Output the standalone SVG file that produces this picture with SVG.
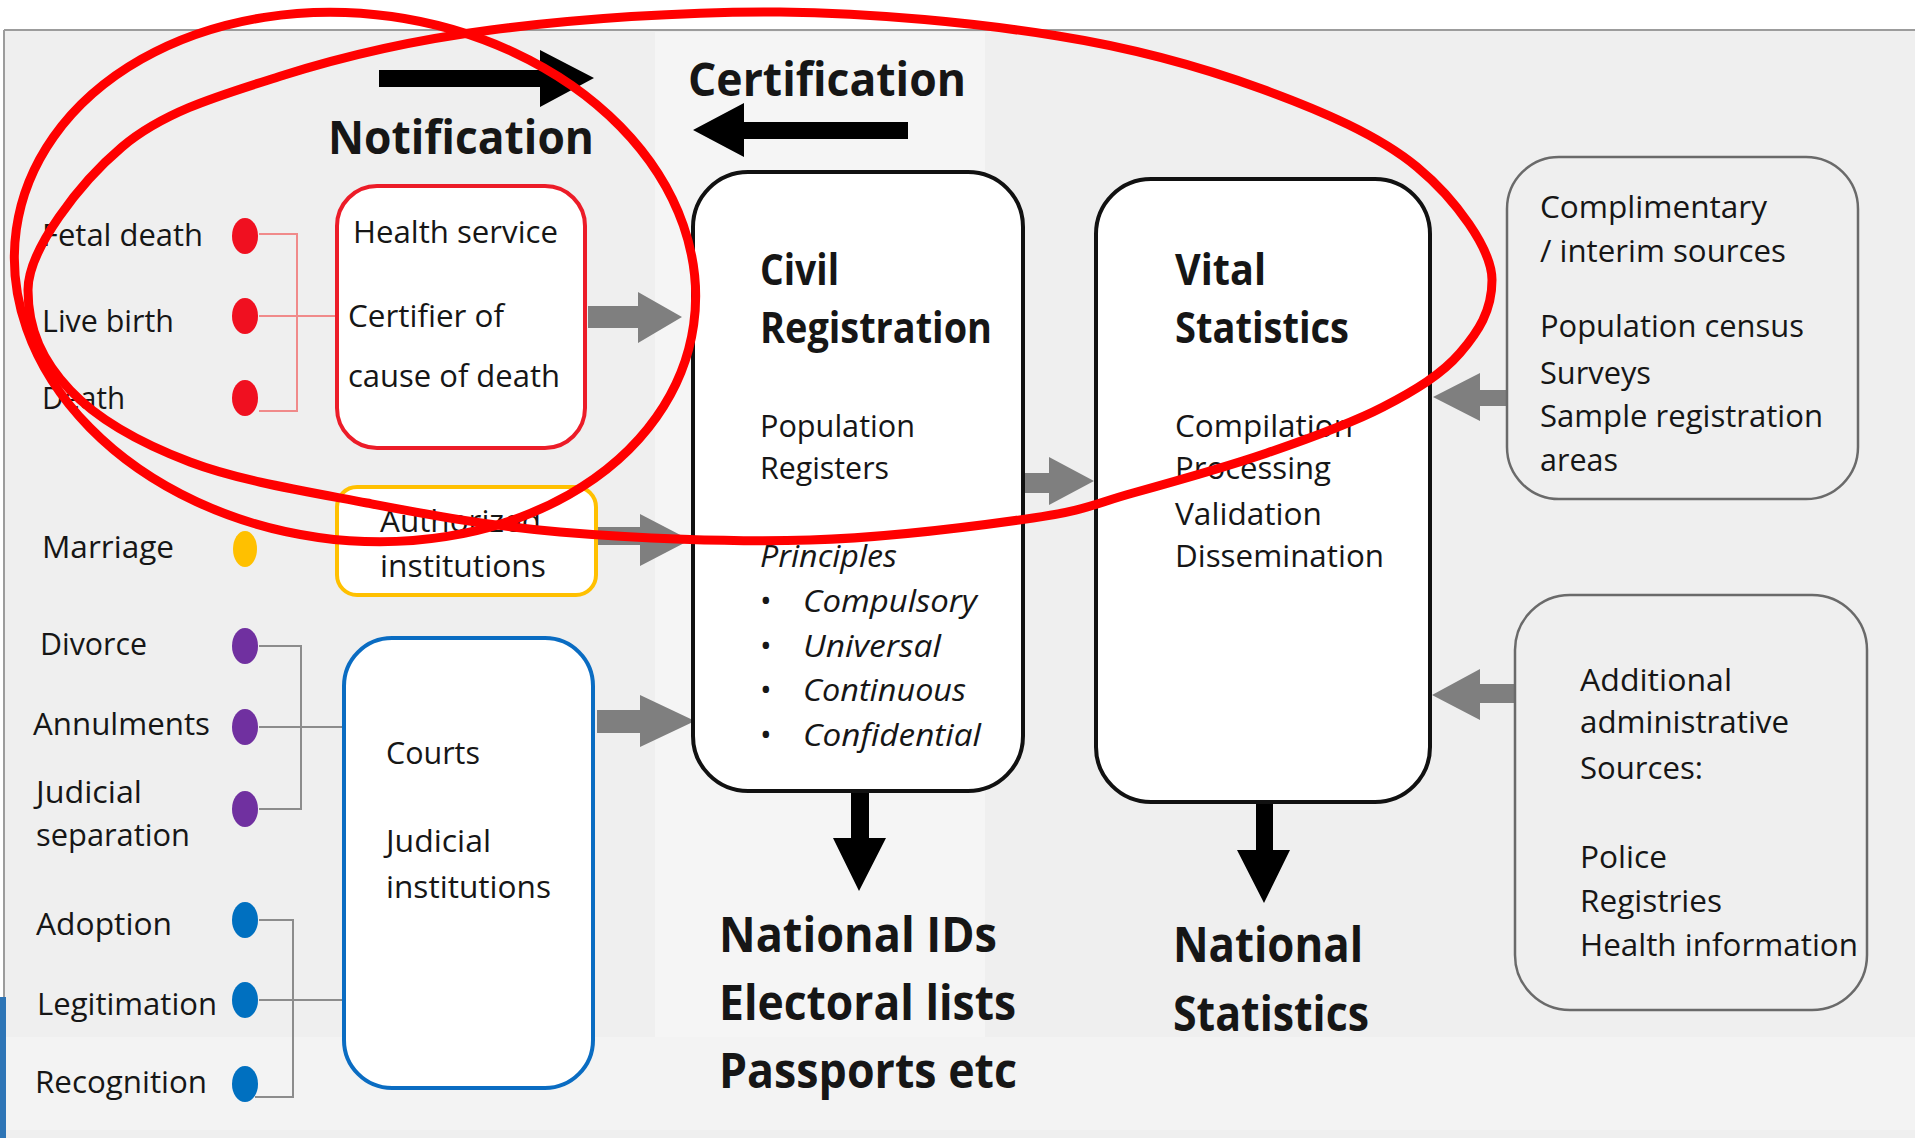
<svg xmlns="http://www.w3.org/2000/svg" width="1915" height="1138" viewBox="0 0 1915 1138">
  <style>
    text { font-family: "Open Sans", "Noto Sans", "Liberation Sans", sans-serif; fill: #161616; }
    .t { font-size: 31px; }
    .it { font-size: 31px; font-style: italic; }
    .h1 { font-size: 46px; font-weight: 700; }
    .h2 { font-size: 43px; font-weight: 700; }
    .h3 { font-size: 48px; font-weight: 700; }
    .box { fill: #ffffff; stroke-width: 4; }
    .src { fill: none; stroke: #6a6a6a; stroke-width: 2.5; }
    .grey-arrow { fill: #7f7f7f; }
    .black-arrow { fill: #000000; }
    .bracket-red { fill: none; stroke: #f08a8a; stroke-width: 2; }
    .bracket-grey { fill: none; stroke: #8c8c8c; stroke-width: 2; }
    .mark { fill: none; stroke: #ff0000; stroke-width: 9; }
  </style>

  <!-- page -->
  <rect x="0" y="0" width="1915" height="1138" fill="#ffffff"/>
  <rect x="4" y="30" width="1911" height="1108" fill="#efefef"/>
  <rect x="655" y="32" width="330" height="1005" fill="#f5f5f5"/>
  <rect x="4" y="1037" width="1911" height="93" fill="#f3f3f3"/>
  <line x1="4" y1="30" x2="1915" y2="30" stroke="#9c9c9c" stroke-width="2"/>
  <line x1="4" y1="30" x2="4" y2="1138" stroke="#9c9c9c" stroke-width="2"/>
  <rect x="0" y="997" width="6" height="141" fill="#2e75b6"/>

  <!-- connectors -->
  <g id="connectors">
    <!-- notification / certification -->
    <polygon class="black-arrow" points="379,70 540,70 540,50 594,78 540,107 540,87 379,87"/>
    <polygon class="black-arrow" points="908,122 744,122 744,103 693,130 744,157 744,139 908,139"/>
    <!-- event brackets -->
    <path class="bracket-red" d="M259,234 H297 V411 H259 M259,316 H337"/>
    <path class="bracket-grey" d="M259,646 H301 V809 H259 M259,727 H344"/>
    <path class="bracket-grey" d="M259,920 H293 V1097 H255 M259,1000 H344"/>
    <!-- grey flow arrows -->
    <polygon class="grey-arrow" points="588,306 638,306 638,292 682,317 638,343 638,328 588,328"/>
    <polygon class="grey-arrow" points="597,527 640,527 640,514 690,540 640,566 640,545 597,545"/>
    <polygon class="grey-arrow" points="597,710 640,710 640,695 695,721 640,747 640,733 597,733"/>
    <polygon class="grey-arrow" points="1023,473 1049,473 1049,457 1094,481 1049,505 1049,493 1023,493"/>
    <polygon class="grey-arrow" points="1508,390 1480,390 1480,373 1433,397 1480,421 1480,406 1508,406"/>
    <polygon class="grey-arrow" points="1515,684 1480,684 1480,669 1432,695 1480,720 1480,703 1515,703"/>
    <!-- outputs -->
    <polygon class="black-arrow" points="851,791 869,791 869,838 886,838 859,891 833,838 851,838"/>
    <polygon class="black-arrow" points="1256,803 1273,803 1273,850 1290,850 1264,903 1237,850 1256,850"/>
  </g>

  <g id="heading-notification">
    <text class="h1" x="328" y="154" textLength="266" lengthAdjust="spacingAndGlyphs">Notification</text>
  </g>
  <g id="heading-certification">
    <text class="h1" x="688" y="96" textLength="278" lengthAdjust="spacingAndGlyphs">Certification</text>
  </g>

  <!-- vital events -->
  <g id="events-health">
    <text class="t" x="42" y="246" textLength="161" lengthAdjust="spacingAndGlyphs">Fetal death</text>
    <text class="t" x="42" y="332" textLength="132" lengthAdjust="spacingAndGlyphs">Live birth</text>
    <text class="t" x="42" y="409" textLength="83" lengthAdjust="spacingAndGlyphs">Death</text>
    <ellipse cx="245" cy="236" rx="13" ry="18" fill="#f01020"/>
    <ellipse cx="245" cy="316" rx="13" ry="18" fill="#f01020"/>
    <ellipse cx="245" cy="398" rx="13" ry="18" fill="#f01020"/>
  </g>
  <g id="events-marriage">
    <text class="t" x="42" y="558" textLength="132" lengthAdjust="spacingAndGlyphs">Marriage</text>
    <ellipse cx="245" cy="549" rx="12" ry="18" fill="#ffc000"/>
  </g>
  <g id="events-dissolution">
    <text class="t" x="40" y="655" textLength="107" lengthAdjust="spacingAndGlyphs">Divorce</text>
    <text class="t" x="33" y="735" textLength="177" lengthAdjust="spacingAndGlyphs">Annulments</text>
    <text class="t" x="36" y="803" textLength="106" lengthAdjust="spacingAndGlyphs">Judicial</text>
    <text class="t" x="36" y="846" textLength="154" lengthAdjust="spacingAndGlyphs">separation</text>
    <ellipse cx="245" cy="646" rx="13" ry="18" fill="#7030a0"/>
    <ellipse cx="245" cy="727" rx="13" ry="18" fill="#7030a0"/>
    <ellipse cx="245" cy="809" rx="13" ry="18" fill="#7030a0"/>
  </g>
  <g id="events-filiation">
    <text class="t" x="36" y="935" textLength="136" lengthAdjust="spacingAndGlyphs">Adoption</text>
    <text class="t" x="37" y="1015" textLength="180" lengthAdjust="spacingAndGlyphs">Legitimation</text>
    <text class="t" x="35" y="1093" textLength="172" lengthAdjust="spacingAndGlyphs">Recognition</text>
    <ellipse cx="245" cy="920" rx="13" ry="18" fill="#0070c0"/>
    <ellipse cx="245" cy="1000" rx="13" ry="18" fill="#0070c0"/>
    <ellipse cx="245" cy="1084" rx="13" ry="18" fill="#0070c0"/>
  </g>

  <!-- informants -->
  <g id="health-service">
    <rect class="box" x="337" y="186" width="248" height="262" rx="40" stroke="#ec1c28"/>
    <text class="t" x="353" y="243" textLength="205" lengthAdjust="spacingAndGlyphs">Health service</text>
    <text class="t" x="348" y="327" textLength="156" lengthAdjust="spacingAndGlyphs">Certifier of</text>
    <text class="t" x="348" y="387" textLength="212" lengthAdjust="spacingAndGlyphs">cause of death</text>
  </g>
  <g id="authorized-institutions">
    <rect class="box" x="337" y="487" width="259" height="108" rx="20" stroke="#ffc000"/>
    <text class="t" x="380" y="532" textLength="161" lengthAdjust="spacingAndGlyphs">Authorized</text>
    <text class="t" x="380" y="577" textLength="166" lengthAdjust="spacingAndGlyphs">institutions</text>
  </g>
  <g id="courts">
    <rect class="box" x="344" y="638" width="249" height="450" rx="48" stroke="#0a6cc2"/>
    <text class="t" x="386" y="764" textLength="94" lengthAdjust="spacingAndGlyphs">Courts</text>
    <text class="t" x="386" y="852" textLength="105" lengthAdjust="spacingAndGlyphs">Judicial</text>
    <text class="t" x="386" y="898" textLength="165" lengthAdjust="spacingAndGlyphs">institutions</text>
  </g>

  <!-- core systems -->
  <g id="civil-registration">
    <rect class="box" x="693" y="172" width="330" height="619" rx="55" stroke="#111111"/>
    <text class="h2" x="760" y="285" textLength="79" lengthAdjust="spacingAndGlyphs">Civil</text>
    <text class="h2" x="760" y="343" textLength="232" lengthAdjust="spacingAndGlyphs">Registration</text>
    <text class="t" x="760" y="437" textLength="155" lengthAdjust="spacingAndGlyphs">Population</text>
    <text class="t" x="760" y="479" textLength="129" lengthAdjust="spacingAndGlyphs">Registers</text>
    <text class="it" x="760" y="567" textLength="137" lengthAdjust="spacingAndGlyphs">Principles</text>
    <text class="t" x="760" y="612">•</text>
    <text class="t" x="760" y="657">•</text>
    <text class="t" x="760" y="701">•</text>
    <text class="t" x="760" y="746">•</text>
    <text class="it" x="803" y="612" textLength="174" lengthAdjust="spacingAndGlyphs">Compulsory</text>
    <text class="it" x="803" y="657" textLength="138" lengthAdjust="spacingAndGlyphs">Universal</text>
    <text class="it" x="803" y="701" textLength="163" lengthAdjust="spacingAndGlyphs">Continuous</text>
    <text class="it" x="803" y="746" textLength="178" lengthAdjust="spacingAndGlyphs">Confidential</text>
  </g>
  <g id="vital-statistics">
    <rect class="box" x="1096" y="179" width="334" height="623" rx="55" stroke="#111111"/>
    <text class="h2" x="1175" y="285" textLength="91" lengthAdjust="spacingAndGlyphs">Vital</text>
    <text class="h2" x="1175" y="343" textLength="174" lengthAdjust="spacingAndGlyphs">Statistics</text>
    <text class="t" x="1175" y="437" textLength="178" lengthAdjust="spacingAndGlyphs">Compilation</text>
    <text class="t" x="1175" y="479" textLength="156" lengthAdjust="spacingAndGlyphs">Processing</text>
    <text class="t" x="1175" y="525" textLength="147" lengthAdjust="spacingAndGlyphs">Validation</text>
    <text class="t" x="1175" y="567" textLength="209" lengthAdjust="spacingAndGlyphs">Dissemination</text>
  </g>

  <!-- other sources -->
  <g id="complimentary-sources">
    <rect class="src" x="1507" y="157" width="351" height="342" rx="52"/>
    <text class="t" x="1540" y="218" textLength="227" lengthAdjust="spacingAndGlyphs">Complimentary</text>
    <text class="t" x="1540" y="262" textLength="246" lengthAdjust="spacingAndGlyphs">/ interim sources</text>
    <text class="t" x="1540" y="337" textLength="264" lengthAdjust="spacingAndGlyphs">Population census</text>
    <text class="t" x="1540" y="384" textLength="111" lengthAdjust="spacingAndGlyphs">Surveys</text>
    <text class="t" x="1540" y="427" textLength="283" lengthAdjust="spacingAndGlyphs">Sample registration</text>
    <text class="t" x="1540" y="471" textLength="78" lengthAdjust="spacingAndGlyphs">areas</text>
  </g>
  <g id="administrative-sources">
    <rect class="src" x="1515" y="595" width="352" height="415" rx="55"/>
    <text class="t" x="1580" y="691" textLength="152" lengthAdjust="spacingAndGlyphs">Additional</text>
    <text class="t" x="1580" y="733" textLength="209" lengthAdjust="spacingAndGlyphs">administrative</text>
    <text class="t" x="1580" y="779" textLength="123" lengthAdjust="spacingAndGlyphs">Sources:</text>
    <text class="t" x="1580" y="868" textLength="87" lengthAdjust="spacingAndGlyphs">Police</text>
    <text class="t" x="1580" y="912" textLength="142" lengthAdjust="spacingAndGlyphs">Registries</text>
    <text class="t" x="1580" y="956" textLength="278" lengthAdjust="spacingAndGlyphs">Health information</text>
  </g>

  <!-- outputs -->
  <g id="civil-outputs">
    <text class="h3" x="719" y="952" textLength="278" lengthAdjust="spacingAndGlyphs">National IDs</text>
    <text class="h3" x="719" y="1020" textLength="297" lengthAdjust="spacingAndGlyphs">Electoral lists</text>
    <text class="h3" x="719" y="1088" textLength="298" lengthAdjust="spacingAndGlyphs">Passports etc</text>
  </g>
  <g id="national-statistics">
    <text class="h3" x="1173" y="962" textLength="190" lengthAdjust="spacingAndGlyphs">National</text>
    <text class="h3" x="1173" y="1031" textLength="196" lengthAdjust="spacingAndGlyphs">Statistics</text>
  </g>

  <!-- hand-drawn highlight rings -->
  <g id="highlights">
    <ellipse class="mark" cx="355" cy="277" rx="342" ry="263" transform="rotate(8 355 277)"/>
    <path class="mark" d="M28,290 C28,249.5 79.8,182.7 122,147 C164.2,111.3 219.5,95.5 281,76 C342.5,56.5 407.8,40.7 491,30 C574.2,19.3 685.5,11 780,12 C874.5,13 977.7,23.2 1058,36 C1138.3,48.8 1202.2,67.2 1262,89 C1321.8,110.8 1378.7,135.2 1417,167 C1455.3,198.8 1492,249 1492,280 C1492,311 1478.2,331.8 1460,353 C1441.8,374.2 1415.2,390.3 1383,407 C1350.8,423.7 1308.7,438.7 1267,453 C1225.3,467.3 1172,482.2 1133,493 C1094,503.8 1086.8,510.2 1033,518 C979.2,525.8 888.8,537.7 810,540 C731.2,542.3 633.8,538.2 560,532 C486.2,525.8 428.7,514.7 367,503 C305.3,491.3 239.5,480.8 190,462 C140.5,443.2 97,418.7 70,390 C43,361.3 28,330.5 28,290 Z"/>
  </g>
</svg>
